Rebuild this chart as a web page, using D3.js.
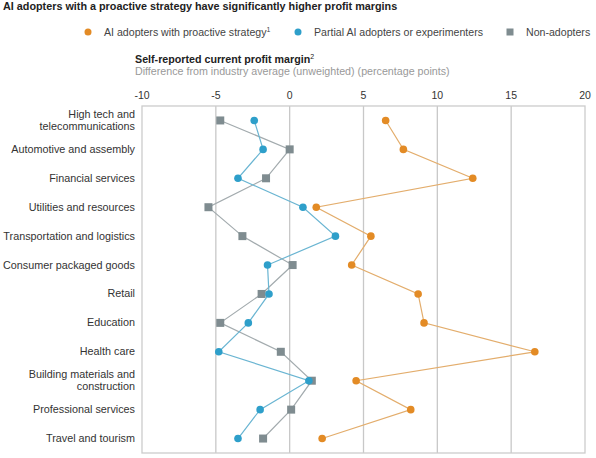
<!DOCTYPE html>
<html>
<head>
<meta charset="utf-8">
<script src="https://cdn.jsdelivr.net/npm/d3@7"></script>
<style>
  body { margin: 0; background: #fff; }
  svg { font-family: "Liberation Sans", Arial, sans-serif; }
</style>
</head>
<body>
<div id="chart"></div>
<script>
// datos del gráfico
const industries = [
  "High tech and|telecommunications",
  "Automotive and assembly",
  "Financial services",
  "Utilities and resources",
  "Transportation and logistics",
  "Consumer packaged goods",
  "Retail",
  "Education",
  "Health care",
  "Building materials and|construction",
  "Professional services",
  "Travel and tourism"
];
const proactive = [6.5, 7.7, 12.4, 1.8, 5.5, 4.2, 8.7, 9.1, 16.6, 4.5, 8.2, 2.2];
const partial = [-2.4, -1.8, -3.5, 0.9, 3.1, -1.5, -1.4, -2.8, -4.8, 1.3, -2.0, -3.5];
const nonAdopters = [-4.7, 0.0, -1.6, -5.5, -3.2, 0.2, -1.9, -4.7, -0.6, 1.5, 0.1, -1.8];
const ticks = [-10, -5, 0, 5, 10, 15, 20];

const W = 596, H = 458;
const plotLeft = 142, plotRight = 585, plotTop = 106, plotBottom = 453;

const svg = d3.select("#chart").append("svg")
  .attr("width", W).attr("height", H);

const x = d3.scaleLinear().domain([-10, 20]).range([plotLeft, plotRight]);
const y = d3.scaleBand().domain(industries).range([plotTop, plotBottom]);
const yc = d => y(d) + y.bandwidth() / 2;

// título
svg.append("text").attr("x", 3).attr("y", 10)
  .attr("font-size", 10.8).attr("font-weight", "bold").attr("fill", "#222")
  .text("AI adopters with a proactive strategy have significantly higher profit margins");

// leyenda
const legend = [
  { label: "AI adopters with proactive strategy", sup: "1", color: "#e38b25", shape: "circle", x: 88 },
  { label: "Partial AI adopters or experimenters", sup: "", color: "#2e9fca", shape: "circle", x: 298 },
  { label: "Non-adopters", sup: "", color: "#7f8c90", shape: "square", x: 510 }
];
legend.forEach(l => {
  if (l.shape === "circle") {
    svg.append("circle").attr("cx", l.x).attr("cy", 32).attr("r", 3.5).attr("fill", l.color);
  } else {
    svg.append("rect").attr("x", l.x - 3.5).attr("y", 28.5).attr("width", 7).attr("height", 7).attr("fill", l.color);
  }
  const t = svg.append("text").attr("x", l.x + 16).attr("y", 36)
    .attr("font-size", 10.6).attr("fill", "#444").text(l.label);
  if (l.sup) t.append("tspan").attr("font-size", 7).attr("dy", -4).text(l.sup);
});

// subtítulo del eje
const st = svg.append("text").attr("x", 135).attr("y", 63)
  .attr("font-size", 10.7).attr("font-weight", "bold").attr("fill", "#222")
  .text("Self-reported current profit margin");
st.append("tspan").attr("font-size", 7).attr("font-weight", "normal").attr("dy", -4).text("2");
svg.append("text").attr("x", 135).attr("y", 75)
  .attr("font-size", 10.7).attr("fill", "#999")
  .text("Difference from industry average (unweighted) (percentage points)");

// etiquetas del eje x
svg.selectAll(".tick-label").data(ticks).enter().append("text")
  .attr("x", d => x(d)).attr("y", 99)
  .attr("text-anchor", "middle").attr("font-size", 10.5).attr("fill", "#333")
  .text(d => d);

// líneas de la cuadrícula
svg.selectAll(".grid").data(ticks.slice(1, -1)).enter().append("line")
  .attr("x1", d => x(d)).attr("x2", d => x(d))
  .attr("y1", plotTop).attr("y2", plotBottom)
  .attr("stroke", "#c8c8c8").attr("stroke-width", 1.3);

// marco
svg.append("rect").attr("x", plotLeft).attr("y", plotTop)
  .attr("width", plotRight - plotLeft).attr("height", plotBottom - plotTop)
  .attr("fill", "none").attr("stroke", "#cccccc").attr("stroke-width", 1.3);

// etiquetas de categoría
industries.forEach(d => {
  const lines = d.split("|");
  const t = svg.append("text").attr("text-anchor", "end").attr("font-size", 10.8).attr("fill", "#333");
  lines.forEach((ln, i) => {
    t.append("tspan").attr("x", 135)
      .attr("y", yc(d) + 3.5 + (i - (lines.length - 1) / 2) * 12.5)
      .text(ln);
  });
});

// series
const series = [
  { values: nonAdopters, color: "#7f8c90", line: "#a3abae", shape: "square" },
  { values: partial, color: "#2e9fca", line: "#6ab5d2", shape: "circle" },
  { values: proactive, color: "#e38b25", line: "#e3ad6c", shape: "circle" }
];
const line = d3.line().x(d => x(d.v)).y(d => yc(d.cat));
series.forEach(s => {
  const pts = s.values.map((v, i) => ({ v, cat: industries[i] }));
  svg.append("path").datum(pts).attr("d", line)
    .attr("fill", "none").attr("stroke", s.line).attr("stroke-width", 1.2);
  if (s.shape === "circle") {
    svg.selectAll(null).data(pts).enter().append("circle")
      .attr("cx", d => x(d.v)).attr("cy", d => yc(d.cat)).attr("r", 3.8)
      .attr("fill", s.color);
  } else {
    svg.selectAll(null).data(pts).enter().append("rect")
      .attr("x", d => x(d.v) - 4).attr("y", d => yc(d.cat) - 4)
      .attr("width", 8).attr("height", 8).attr("fill", s.color);
  }
});
</script>
</body>
</html>
